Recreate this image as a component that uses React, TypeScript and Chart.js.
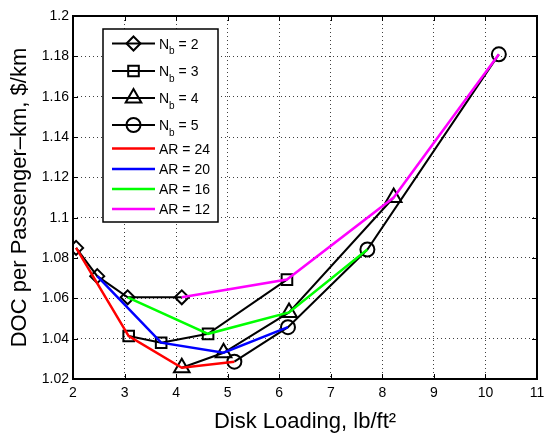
import React, { useEffect, useRef } from "react";
import { Chart, registerables } from "chart.js";

Chart.register(...registerables);

const FONT = "'Liberation Sans', Arial, Helvetica, sans-serif";

// Axis ticks
const xTickValues = [2, 3, 4, 5, 6, 7, 8, 9, 10, 11];
const yTickValues = [1.02, 1.04, 1.06, 1.08, 1.1, 1.12, 1.14, 1.16, 1.18, 1.2];

// Series labels / styles
const nbLabels = ["2", "3", "4", "5"];
const arLabels = ["24", "20", "16", "12"];
const arColors = ["#ff0000", "#0000ff", "#00ff00", "#ff00ff"];
const nbMarkers = ["rectRot", "rect", "triangle", "circle"];
const nbMarkerRadius = [7, 7.5, 9, 7];

// Data: each N_b series holds points for AR = 24, 20, 16, 12
const nb2DiskLoading = [2.06, 2.47, 3.06, 4.11];
const nb2Doc = [1.085, 1.071, 1.0605, 1.0605];
const nb3DiskLoading = [3.08, 3.71, 4.62, 6.15];
const nb3Doc = [1.0413, 1.038, 1.0424, 1.0693];
const nb4DiskLoading = [4.11, 4.92, 6.19, 8.22];
const nb4Doc = [1.0256, 1.033, 1.053, 1.11];
const nb5DiskLoading = [5.13, 6.17, 7.71, 10.26];
const nb5Doc = [1.0286, 1.0457, 1.0842, 1.181];

const nbX = [nb2DiskLoading, nb3DiskLoading, nb4DiskLoading, nb5DiskLoading];
const nbY = [nb2Doc, nb3Doc, nb4Doc, nb5Doc];

function drawMarker(ctx: CanvasRenderingContext2D, style: string, r: number, x: number, y: number) {
  ctx.beginPath();
  if (style === "rectRot") {
    ctx.moveTo(x, y - r);
    ctx.lineTo(x + r, y);
    ctx.lineTo(x, y + r);
    ctx.lineTo(x - r, y);
    ctx.closePath();
  } else if (style === "rect") {
    const s = Math.SQRT1_2 * r;
    ctx.rect(x - s, y - s, 2 * s, 2 * s);
  } else if (style === "triangle") {
    const w = r * Math.sin(Math.PI / 3);
    ctx.moveTo(x, y - r);
    ctx.lineTo(x + w, y + r / 2);
    ctx.lineTo(x - w, y + r / 2);
    ctx.closePath();
  } else {
    ctx.arc(x, y, r, 0, Math.PI * 2);
  }
  ctx.stroke();
}

const framePlugin = {
  id: "frameTicks",
  afterDatasetsDraw(chart: any) {
    const { ctx, chartArea } = chart;
    const { left, right, top, bottom } = chartArea;
    const xs = chart.scales.x;
    const ys = chart.scales.y;
    ctx.save();
    ctx.strokeStyle = "#000";
    ctx.lineWidth = 1;
    const tl = 5;
    ctx.beginPath();
    xTickValues.forEach((v) => {
      const px = Math.round(xs.getPixelForValue(v)) + 0.5;
      ctx.moveTo(px, bottom);
      ctx.lineTo(px, bottom - tl);
      ctx.moveTo(px, top);
      ctx.lineTo(px, top + tl);
    });
    yTickValues.forEach((v) => {
      const py = Math.round(ys.getPixelForValue(v)) + 0.5;
      ctx.moveTo(left, py);
      ctx.lineTo(left + tl, py);
      ctx.moveTo(right, py);
      ctx.lineTo(right - tl, py);
    });
    ctx.stroke();
    ctx.lineWidth = 2;
    ctx.strokeRect(left, top, right - left, bottom - top);
    ctx.restore();
  },
};

const legendPlugin = {
  id: "customLegend",
  afterDraw(chart: any) {
    const ctx: CanvasRenderingContext2D = chart.ctx;
    ctx.save();
    const bx = 103, by = 29, bw = 115, bh = 193;
    ctx.fillStyle = "#fff";
    ctx.fillRect(bx, by, bw, bh);
    ctx.strokeStyle = "#000";
    ctx.lineWidth = 1.5;
    ctx.strokeRect(bx, by, bw, bh);

    const rowsNb = [43.5, 71, 98, 125];
    const rowsAr = [148.5, 169, 189, 209];
    const lx0 = 112, lx1 = 155, mx = 133.5, tx = 159;

    ctx.textBaseline = "alphabetic";
    ctx.textAlign = "left";
    nbLabels.forEach((lab, i) => {
      const y = rowsNb[i];
      ctx.strokeStyle = "#000";
      ctx.lineWidth = 2;
      ctx.beginPath();
      ctx.moveTo(lx0, y);
      ctx.lineTo(lx1, y);
      ctx.stroke();
      drawMarker(ctx, nbMarkers[i], nbMarkerRadius[i], mx, y);
      ctx.fillStyle = "#000";
      ctx.font = `14px ${FONT}`;
      ctx.fillText("N", tx, y + 5);
      const nw = ctx.measureText("N").width;
      ctx.font = `10px ${FONT}`;
      ctx.fillText("b", tx + nw, y + 10.5);
      const bw2 = ctx.measureText("b").width;
      ctx.font = `14px ${FONT}`;
      ctx.fillText(" = " + lab, tx + nw + bw2, y + 5);
    });
    arLabels.forEach((lab, i) => {
      const y = rowsAr[i];
      ctx.strokeStyle = arColors[i];
      ctx.lineWidth = 2.5;
      ctx.beginPath();
      ctx.moveTo(lx0, y);
      ctx.lineTo(lx1, y);
      ctx.stroke();
      ctx.fillStyle = "#000";
      ctx.font = `14px ${FONT}`;
      ctx.fillText("AR = " + lab, tx, y + 5);
    });
    ctx.restore();
  },
};

export default function App() {
  const canvasRef = useRef<HTMLCanvasElement | null>(null);

  useEffect(() => {
    const canvas = canvasRef.current;
    if (!canvas) return;

    const arDatasets = arLabels.map((lab, i) => ({
      label: "AR = " + lab,
      data: nbX.map((xs, k) => ({ x: xs[i], y: nbY[k][i] })),
      borderColor: arColors[i],
      backgroundColor: arColors[i],
      borderWidth: 2.5,
      pointRadius: 0,
      pointHoverRadius: 0,
      showLine: true,
      tension: 0,
      fill: false,
    }));

    const nbDatasets = nbLabels.map((lab, k) => ({
      label: "N_b = " + lab,
      data: nbX[k].map((x, i) => ({ x, y: nbY[k][i] })),
      borderColor: "#000",
      backgroundColor: "#000",
      borderWidth: 2,
      pointStyle: nbMarkers[k],
      pointRadius: nbMarkerRadius[k],
      pointHoverRadius: nbMarkerRadius[k],
      pointBorderColor: "#000",
      pointBackgroundColor: "rgba(0,0,0,0)",
      pointBorderWidth: 2,
      showLine: true,
      tension: 0,
      fill: false,
    }));

    const chart = new Chart(canvas, {
      type: "line",
      data: { datasets: [...arDatasets, ...nbDatasets] as any },
      options: {
        animation: false,
        responsive: false,
        devicePixelRatio: 1,
        layout: { padding: { top: 16, right: 5, left: 0, bottom: 0 } },
        plugins: {
          legend: { display: false },
          tooltip: { enabled: false },
        },
        scales: {
          x: {
            type: "linear",
            min: 2,
            max: 11,
            afterBuildTicks: (scale: any) => {
              scale.ticks = xTickValues.map((v) => ({ value: v }));
            },
            afterFit: (scale: any) => {
              scale.height = 57;
              scale.paddingLeft = 0;
              scale.paddingRight = 0;
            },
            ticks: {
              color: "#000",
              font: { family: FONT, size: 14 },
              padding: 6,
              maxRotation: 0,
              autoSkip: false,
              callback: (v: any) => String(v),
            },
            grid: {
              color: "rgba(0,0,0,0.75)",
              lineWidth: 1,
              drawTicks: false,
            },
            border: { display: false, dash: [1, 3] },
            title: {
              display: true,
              text: "Disk Loading, lb/ft²",
              color: "#000",
              font: { family: FONT, size: 22 },
              padding: { top: 0, bottom: 1 },
            },
          },
          y: {
            type: "linear",
            min: 1.02,
            max: 1.2,
            afterBuildTicks: (scale: any) => {
              scale.ticks = yTickValues.map((v) => ({ value: v }));
            },
            afterFit: (scale: any) => {
              scale.width = 73;
              scale.paddingTop = 0;
              scale.paddingBottom = 0;
            },
            ticks: {
              color: "#000",
              font: { family: FONT, size: 14 },
              padding: 4,
              autoSkip: false,
              callback: (v: any) => String(Math.round(Number(v) * 100) / 100),
            },
            grid: {
              color: "rgba(0,0,0,0.75)",
              lineWidth: 1,
              drawTicks: false,
            },
            border: { display: false, dash: [1, 3] },
            title: {
              display: true,
              text: "DOC per Passenger–km, $/km",
              color: "#000",
              font: { family: FONT, size: 22 },
              padding: { top: 7, bottom: 0 },
            },
          },
        },
      } as any,
      plugins: [framePlugin, legendPlugin],
    });

    return () => {
      chart.destroy();
    };
  }, []);

  return (
    <div style={{ position: "absolute", left: 0, top: 0, width: 548, height: 436, background: "#fff" }}>
      <canvas ref={canvasRef} width={548} height={436} style={{ display: "block" }} />
    </div>
  );
}
